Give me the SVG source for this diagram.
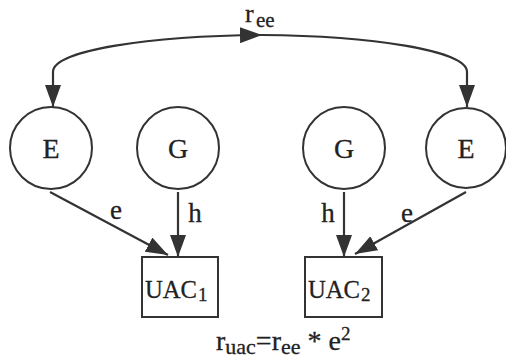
<svg xmlns="http://www.w3.org/2000/svg" width="506" height="358" viewBox="0 0 506 358">
<defs>
<style>
.node{fill:#fff;stroke:#333;stroke-width:2}
text{font-family:'Liberation Serif','DejaVu Serif','Times New Roman',serif;fill:#222;stroke:#222;stroke-width:0.3}
.c{text-anchor:middle}
.edge{fill:none;stroke:#333;stroke-width:2.2}
</style>
<marker id="ah" viewBox="0 0 22 16" refX="22" refY="8" markerWidth="22" markerHeight="16" markerUnits="userSpaceOnUse" orient="auto-start-reverse">
<path d="M0,0 L22,8 L0,16 z" fill="#333"/>
</marker>
</defs>
<rect width="506" height="358" fill="#fff"/>
<g id="connectors">
<path class="edge" d="M53,107 L53,72 C53,50 150,36 262,35" marker-start="url(#ah)" marker-end="url(#ah)"/>
<path class="edge" d="M262,35 C370,36 467,50 467,72 L467,107" marker-end="url(#ah)"/>
<line class="edge" x1="50" y1="192" x2="168" y2="255" marker-end="url(#ah)"/>
<line class="edge" x1="178" y1="192" x2="178" y2="257" marker-end="url(#ah)"/>
<line class="edge" x1="344" y1="192" x2="344" y2="257" marker-end="url(#ah)"/>
<line class="edge" x1="466" y1="192" x2="355" y2="254" marker-end="url(#ah)"/>
<text x="245" y="22" font-size="26">r<tspan font-size="21" x="256" dy="5">ee</tspan></text>
<text class="c" x="116" y="219" font-size="27">e</text>
<text class="c" x="195" y="222" font-size="27">h</text>
<text class="c" x="328" y="222" font-size="27">h</text>
<text class="c" x="407" y="222" font-size="27">e</text>
</g>
<g id="E1"><circle class="node" cx="51" cy="148" r="41"/><text class="c" x="51" y="158" font-size="28">E</text></g>
<g id="G1"><circle class="node" cx="178" cy="148" r="41"/><text class="c" x="178" y="158" font-size="28">G</text></g>
<g id="G2"><circle class="node" cx="344" cy="148" r="41"/><text class="c" x="344" y="158" font-size="28">G</text></g>
<g id="E2"><circle class="node" cx="466" cy="148" r="40"/><text class="c" x="466" y="158" font-size="28">E</text></g>
<g id="UAC1"><rect class="node" x="142" y="257" width="76" height="60"/><text x="145" y="298" font-size="25" textLength="52" lengthAdjust="spacingAndGlyphs">UAC</text><text x="198" y="301" font-size="19">1</text></g>
<g id="UAC2"><rect class="node" x="305" y="257" width="77" height="60"/><text x="308" y="298" font-size="25" textLength="52" lengthAdjust="spacingAndGlyphs">UAC</text><text x="361" y="301" font-size="19">2</text></g>
<text x="216" y="350" font-size="28" xml:space="preserve">r<tspan font-size="22" dy="4">uac</tspan><tspan dy="-4">=r</tspan><tspan font-size="22" dy="4">ee</tspan><tspan dy="-4"> * e</tspan><tspan font-size="19" dy="-10">2</tspan></text>
</svg>
